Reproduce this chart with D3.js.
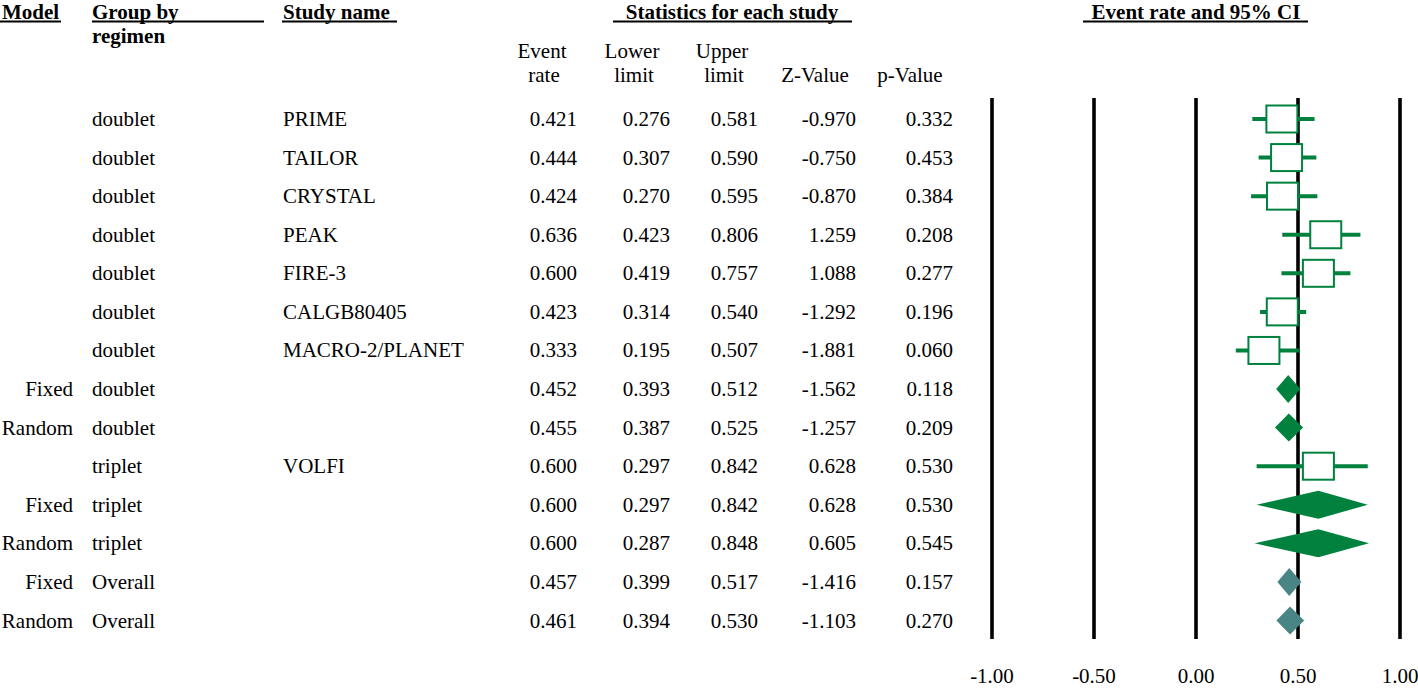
<!DOCTYPE html>
<html>
<head>
<meta charset="utf-8">
<script src="https://cdn.jsdelivr.net/npm/d3@7"></script>
<style>
  html, body { margin: 0; padding: 0; background: #fff; }
  svg { display: block; }
  text { font-family: "Liberation Serif", "Times New Roman", serif; font-size: 21px; fill: #000; }
</style>
</head>
<body>
<svg id="chart" width="1418" height="688"></svg>
<script>
const models = ["", "", "", "", "", "", "", "Fixed", "Random", "", "Fixed", "Random", "Fixed", "Random"];
const groups = ["doublet", "doublet", "doublet", "doublet", "doublet", "doublet", "doublet", "doublet", "doublet", "triplet", "triplet", "triplet", "Overall", "Overall"];
const studies = ["PRIME", "TAILOR", "CRYSTAL", "PEAK", "FIRE-3", "CALGB80405", "MACRO-2/PLANET", "", "", "VOLFI", "", "", "", ""];
const eventRate = [0.421, 0.444, 0.424, 0.636, 0.600, 0.423, 0.333, 0.452, 0.455, 0.600, 0.600, 0.600, 0.457, 0.461];
const lowerLimit = [0.276, 0.307, 0.270, 0.423, 0.419, 0.314, 0.195, 0.393, 0.387, 0.297, 0.297, 0.287, 0.399, 0.394];
const upperLimit = [0.581, 0.590, 0.595, 0.806, 0.757, 0.540, 0.507, 0.512, 0.525, 0.842, 0.842, 0.848, 0.517, 0.530];
const zValue = [-0.970, -0.750, -0.870, 1.259, 1.088, -1.292, -1.881, -1.562, -1.257, 0.628, 0.628, 0.605, -1.416, -1.103];
const pValue = [0.332, 0.453, 0.384, 0.208, 0.277, 0.196, 0.060, 0.118, 0.209, 0.530, 0.530, 0.545, 0.157, 0.270];
const markType = ["study", "study", "study", "study", "study", "study", "study", "subtotal", "subtotal", "study", "subtotal", "subtotal", "overall", "overall"];
const tickValues = [-1, -0.5, 0, 0.5, 1];
const tickLabels = ["-1.00", "-0.50", "0.00", "0.50", "1.00"];

const GREEN = "#00823e";
const TEAL = "#4a8585";

const svg = d3.select("#chart");
const idx = d3.range(eventRate.length);

const y = d3.scalePoint().domain(idx).range([119, 620.5]);
const x = d3.scaleLinear().domain([-1, 1]).range([992, 1400]);

// ---------- headers ----------
const HB = 19;
function header(txt, tx, anchor, ulx1, ulx2) {
  svg.append("text").attr("x", tx).attr("y", HB).attr("text-anchor", anchor)
    .attr("font-weight", "bold").text(txt);
  svg.append("line").attr("x1", ulx1).attr("x2", ulx2).attr("y1", 21.5).attr("y2", 21.5)
    .attr("stroke", "#000").attr("stroke-width", 2);
}
header("Model", 2, "start", 0, 61);
header("Group by", 92, "start", 92, 264);
svg.append("text").attr("x", 92).attr("y", 42.5).attr("font-weight", "bold").text("regimen");
header("Study name", 283, "start", 282, 397);
header("Statistics for each study", 732, "middle", 613, 852);
header("Event rate and 95% CI", 1196, "middle", 1083, 1308);

const colHeads = [
  { l1: "Event", l2: "rate", cx: 542 },
  { l1: "Lower", l2: "limit", cx: 632 },
  { l1: "Upper", l2: "limit", cx: 722 },
  { l1: "", l2: "Z-Value", cx: 815 },
  { l1: "", l2: "p-Value", cx: 910 }
];
colHeads.forEach(c => {
  if (c.l1) svg.append("text").attr("x", c.cx).attr("y", 58).attr("text-anchor", "middle").text(c.l1);
  svg.append("text").attr("x", c.cx + (c.l1 ? 2 : 0)).attr("y", 81.5).attr("text-anchor", "middle").text(c.l2);
});

// ---------- table rows ----------
const rows = svg.append("g").selectAll("g").data(idx).join("g")
  .attr("transform", i => `translate(0,${y(i) + 7})`);
rows.append("text").attr("x", 73).attr("text-anchor", "end").text(i => models[i]);
rows.append("text").attr("x", 92).text(i => groups[i]);
rows.append("text").attr("x", 283).text(i => studies[i]);
const f3 = d3.format(".3f");
const numCols = [
  { arr: eventRate, rx: 577 },
  { arr: lowerLimit, rx: 670 },
  { arr: upperLimit, rx: 758 },
  { arr: zValue, rx: 856 },
  { arr: pValue, rx: 953 }
];
numCols.forEach(c => {
  rows.append("text").attr("x", c.rx).attr("text-anchor", "end")
    .text(i => f3(c.arr[i]).replace("−", "-"));
});

// ---------- forest plot ----------
const plot = svg.append("g");
plot.selectAll("line.ref").data(tickValues).join("line")
  .attr("class", "ref")
  .attr("x1", d => x(d)).attr("x2", d => x(d))
  .attr("y1", 98).attr("y2", 639)
  .attr("stroke", "#000").attr("stroke-width", 3.6);

svg.selectAll("text.tick").data(tickValues).join("text")
  .attr("class", "tick")
  .attr("x", d => x(d)).attr("y", 683).attr("text-anchor", "middle")
  .text((d, i) => tickLabels[i]);

const studyIdx = idx.filter(i => markType[i] === "study");
const sumIdx = idx.filter(i => markType[i] !== "study");

plot.selectAll("line.ci").data(studyIdx).join("line")
  .attr("class", "ci")
  .attr("x1", i => x(lowerLimit[i])).attr("x2", i => x(upperLimit[i]))
  .attr("y1", i => y(i)).attr("y2", i => y(i))
  .attr("stroke", GREEN).attr("stroke-width", 4);

const bw = 31, bh = 27;
plot.selectAll("rect.box").data(studyIdx).join("rect")
  .attr("class", "box")
  .attr("x", i => x(eventRate[i]) - bw / 2).attr("y", i => y(i) - bh / 2)
  .attr("width", bw).attr("height", bh)
  .attr("fill", "#fff").attr("stroke", GREEN).attr("stroke-width", 2);

const dh = 14;
plot.selectAll("path.diamond").data(sumIdx).join("path")
  .attr("class", "diamond")
  .attr("d", i => {
    const cy = y(i);
    return `M${x(lowerLimit[i])},${cy}L${x(eventRate[i])},${cy - dh}L${x(upperLimit[i])},${cy}L${x(eventRate[i])},${cy + dh}Z`;
  })
  .attr("fill", i => markType[i] === "overall" ? TEAL : GREEN);
</script>
</body>
</html>
